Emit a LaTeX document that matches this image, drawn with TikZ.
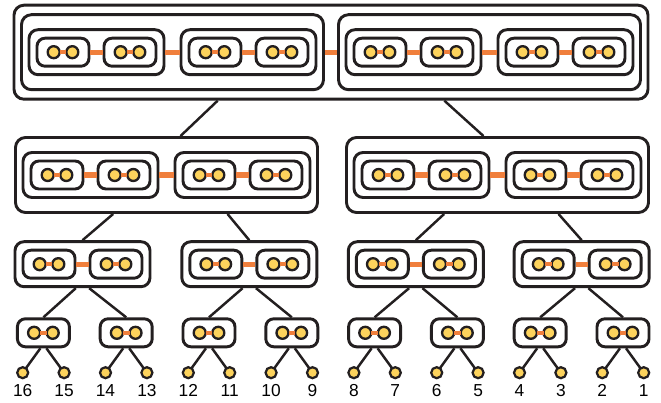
\documentclass[tikz,border=0pt]{standalone}
\usepackage{fontspec}
\setmainfont{Liberation Sans}

\definecolor{ink}{RGB}{35,31,32}
\definecolor{orng}{RGB}{240,127,60}
\definecolor{yel}{RGB}{253,211,92}

\tikzstyle{b1}=[rectangle,draw=ink,line width=2.5pt,rounded corners=0.24cm,minimum width=1.56cm,minimum height=0.84cm,inner sep=0pt]
\tikzstyle{b2}=[b1,rounded corners=0.27cm,minimum width=4.05cm,minimum height=1.35cm]
\tikzstyle{b3}=[b1,rounded corners=0.3cm,minimum width=9.06cm,minimum height=2.25cm]
\tikzstyle{b4}=[b1,rounded corners=0.3cm,minimum width=19.02cm,minimum height=2.82cm]
\tikzstyle{bead}=[circle,draw=ink,fill=yel,line width=2pt,minimum size=0.36cm,inner sep=0pt,outer sep=0pt]
\tikzstyle{leaf}=[bead,line width=1.9pt,minimum size=0.33cm]
\tikzstyle{lk1}=[draw=orng,line width=3.6pt]
\tikzstyle{lk2}=[draw=orng,line width=4.5pt]
\tikzstyle{stem}=[draw=ink,line width=2.1pt]
\tikzstyle{lab}=[inner sep=0pt,font=\fontsize{14.8}{17}\selectfont]

%nested groups: box with two halves joined by a link
\newcommand{\levone}[3]{%
  \node [b1] (#1) at (#2,#3) {};
  \node [bead] (#1l) at (#2-9.3,#3) {};
  \node [bead] (#1r) at (#2+9.3,#3) {};
  \draw [lk1] (#1l) -- (#1r);
}
\newcommand{\levtwo}[3]{%
  \node [b2] (#1) at (#2,#3) {};
  \levone{#1l}{#2-33.5}{#3}
  \levone{#1r}{#2+33.5}{#3}
  \draw [lk2] (#1l) -- (#1r);
}
\newcommand{\levthree}[3]{%
  \node [b3] (#1) at (#2,#3) {};
  \levtwo{#1l}{#2-76}{#3}
  \levtwo{#1r}{#2+76}{#3}
  \draw [lk2] (#1l) -- (#1r);
}
\newcommand{\levfour}[3]{%
  \node [b4] (#1) at (#2,#3) {};
  \levthree{#1l}{#2-158.5}{#3}
  \levthree{#1r}{#2+158.5}{#3}
  \draw [lk2] (#1l) -- (#1r);
}
%bottom pair with its two leaves
\newcommand{\twig}[4]{%
  \levone{#1}{#2}{332.8}
  \node [leaf] (#1x) at (#2-20.7,372.7) {};
  \node [leaf] (#1y) at (#2+20.7,372.7) {};
  \node [lab] (#1xn) at (#2-20.7,390.5) {#3};
  \node [lab] (#1yn) at (#2+20.7,390.5) {#4};
  \draw [stem] ([xshift=-0.09cm]#1.south) -- (#1x);
  \draw [stem] ([xshift=0.09cm]#1.south) -- (#1y);
}

\begin{document}
\begin{tikzpicture}[x=0.03cm,y=-0.03cm]
\useasboundingbox (0,0) rectangle (661,403);

%Top: everything
\levfour{r}{331}{52.2}

%Second row
\levthree{p}{166.5}{175}
\levthree{q}{497.5}{175}

%Third row
\levtwo{c}{82.5}{264.2}
\levtwo{d}{249.3}{264.2}
\levtwo{e}{415.8}{264.2}
\levtwo{f}{581.7}{264.2}

%Pairs and leaves
\twig{g}{43.4}{16}{15}
\twig{h}{126.2}{14}{13}
\twig{i}{209.0}{12}{11}
\twig{j}{291.8}{10}{9}
\twig{k}{374.6}{8}{7}
\twig{m}{457.4}{6}{5}
\twig{n}{540.2}{4}{3}
\twig{o}{623.0}{2}{1}

\draw [stem] ([xshift=-3.4cm]r.south) -- ([xshift=0.42cm]p.north);
\draw [stem] ([xshift=3.4cm]r.south) -- ([xshift=-0.42cm]q.north);

\draw [stem] ([xshift=-1.6cm]p.south) -- (c.north);
\draw [stem] ([xshift=1.83cm]p.south) -- (d.north);
\draw [stem] ([xshift=-1.6cm]q.south) -- (e.north);
\draw [stem] ([xshift=1.83cm]q.south) -- (f.north);

\draw [stem] ([xshift=-0.2cm]c.south) -- (g.north);
\draw [stem] ([xshift=0.2cm]c.south) -- (h.north);
\draw [stem] ([xshift=-0.2cm]d.south) -- (i.north);
\draw [stem] ([xshift=0.2cm]d.south) -- (j.north);
\draw [stem] ([xshift=-0.2cm]e.south) -- (k.north);
\draw [stem] ([xshift=0.2cm]e.south) -- (m.north);
\draw [stem] ([xshift=-0.2cm]f.south) -- (n.north);
\draw [stem] ([xshift=0.2cm]f.south) -- (o.north);

\end{tikzpicture}
\end{document}
